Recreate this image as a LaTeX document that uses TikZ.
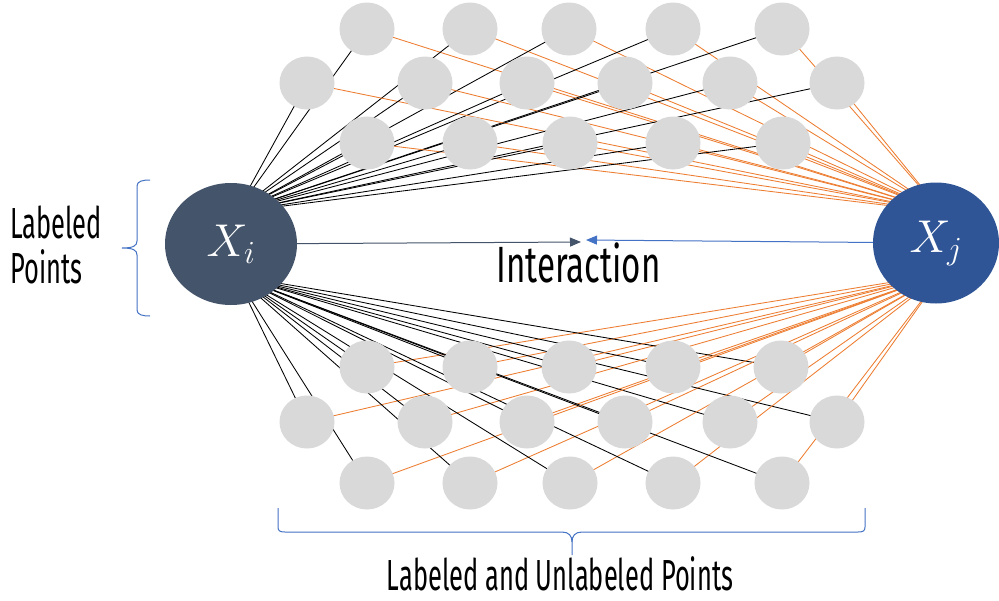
\RequirePackage{fix-cm}
\documentclass[tikz,border=0pt]{standalone}
\usepackage{fontspec}
\newfontfamily\agency[FakeStretch=0.585]{Fira Sans}
\newfontfamily\agencyw[FakeStretch=0.65]{Fira Sans}
\usetikzlibrary{shapes.geometric,arrows.meta}
\definecolor{xicol}{HTML}{44546A}
\definecolor{xjcol}{HTML}{2F5597}
\definecolor{gnode}{HTML}{D9D9D9}
\definecolor{orln}{HTML}{ED7D31}
\definecolor{brblue}{HTML}{4472C4}
\pgfdeclarelayer{bg}
\pgfsetlayers{bg,main}
\begin{document}
\begin{tikzpicture}[x=1pt,y=-1pt,
  gp/.style={ellipse, fill=gnode, minimum width=55pt, minimum height=53pt, inner sep=0pt},
  big/.style={ellipse, minimum width=132pt, minimum height=122pt, inner sep=0pt, text=white, font=\fontsize{46}{52}\selectfont},
  blk/.style={black, line width=0.85pt},
  org/.style={orln, line width=0.85pt},
  lbl/.style={font=\agency\fontsize{43.5}{45}\selectfont, inner sep=0pt},
  brc/.style={brblue, line width=1pt},
  arr/.style={line width=1pt, -{Triangle[length=11pt,width=9pt]}}]
\useasboundingbox (0,0) rectangle (999,600);
% gray points
\foreach \x [count=\k] in {367,470,569,673,782} \node[gp] (ta\k) at (\x,29) {};
\foreach \x [count=\k] in {307,425,527,625,730,837} \node[gp] (tb\k) at (\x,83) {};
\foreach \x [count=\k] in {367,470,570,673,783} \node[gp] (tc\k) at (\x,143) {};
\foreach \x [count=\k] in {367,470,569,673,781} \node[gp] (ba\k) at (\x,367) {};
\foreach \x [count=\k] in {307,425,527,625,730,837} \node[gp] (bb\k) at (\x,422) {};
\foreach \x [count=\k] in {367,470,570,673,782} \node[gp] (bc\k) at (\x,483) {};
% big nodes
\node[big, fill=xicol] (xi) at (231,244) {$X_i$};
\node[big, fill=xjcol, minimum width=126pt, minimum height=121pt] (xj) at (936,243) {$X_j$};
\coordinate (xiU) at ([shift={(5,-32)}]xi.center);
\coordinate (xiD) at ([shift={(5,32)}]xi.center);
\coordinate (xjU) at ([shift={(6,-31)}]xj.center);
\coordinate (xjD) at ([shift={(6,31)}]xj.center);
% connectors
\begin{pgfonlayer}{bg}
\fill[white] (0,0) rectangle (999,600);
\foreach \r/\m in {ta/5,tb/6,tc/5}
  \foreach \k in {1,...,\m} {
    \draw[blk] (xiU) -- (\r\k.center);
    \draw[org] (xjU) -- (\r\k.center);
  }
\foreach \r/\m in {ba/5,bb/6,bc/5}
  \foreach \k in {1,...,\m} {
    \draw[blk] (xiD) -- (\r\k.center);
    \draw[org] (xjD) -- (\r\k.center);
  }
\end{pgfonlayer}
% interaction
\coordinate (mL) at (581,242);
\coordinate (mR) at (586,240);
\draw[arr, xicol] (xi) -- (mL);
\draw[arr, brblue] (xj) -- (mR);
\node[lbl, font=\agencyw\fontsize{51}{52}\selectfont, anchor=base] (inter) at (578.5,282) {Interaction};
% labels
\node[lbl, anchor=base west] (lab1) at (10,238) {Labeled};
\node[lbl, anchor=base west] (lab2) at (10,283) {Points};
\node[lbl, anchor=base] (lab3) at (560,590) {Labeled and Unlabeled Points};
% braces
\draw[brc] (150,180) .. controls (143,180) and (137,181) .. (137,186) -- (137,241)
  .. controls (137,246) and (133,248) .. (122,248)
  .. controls (133,248) and (137,250) .. (137,255) -- (137,310)
  .. controls (137,315) and (143,316) .. (150,316);
\draw[brc] (278,508) -- (278,527) .. controls (278,531) and (280,532) .. (285,532) -- (562,532)
  .. controls (569,532) and (572,536) .. (572,542) -- (572,555);
\draw[brc] (572,542) .. controls (572,536) and (575,532) .. (582,532) -- (858,532)
  .. controls (863,532) and (865,531) .. (865,527) -- (865,508);
\end{tikzpicture}
\end{document}
